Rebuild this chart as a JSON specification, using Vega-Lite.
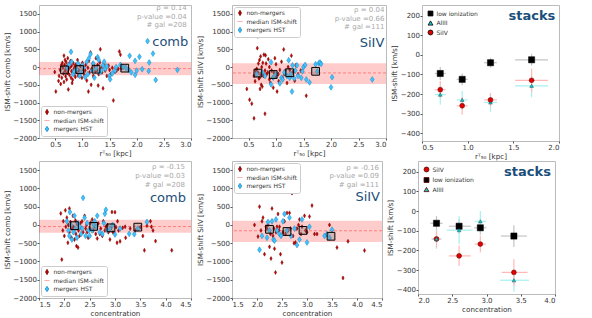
{
"$schema": "https://vega.github.io/schema/vega-lite/v6.json",
"padding": {"left": 2, "top": 3, "right": 5, "bottom": 0},
"spacing": 0,
"config": {
  "font": "DejaVu Sans",
  "view": {"stroke": "#bbbbbb"},
  "axis": {"grid": false, "domain": false, "labelFontSize": 7, "titleFontSize": 7.2, "titleFontWeight": "normal", "labelColor": "#333333", "titleColor": "#333333", "tickColor": "#555555", "tickSize": 2, "labelPadding": 0.5, "titlePadding": 1.5, "labelOverlap": false},
  "legend": {"labelFontSize": 6, "symbolStrokeWidth": 0.8, "symbolSize": 28, "padding": 2.5, "rowPadding": 0.5, "labelOffset": 3, "labelColor": "#333333"}
},
"resolve": {"scale": {"fill": "independent", "stroke": "independent", "shape": "independent"}},
"datasets": {
  "p1": [
    {"x":0.49,"y":-140,"g":"non-mergers"},{"x":0.51,"y":-690,"g":"non-mergers"},{"x":0.56,"y":-390,"g":"non-mergers"},{"x":0.57,"y":-250,"g":"non-mergers"},{"x":0.59,"y":-80,"g":"non-mergers"},{"x":0.6,"y":-480,"g":"non-mergers"},{"x":0.61,"y":50,"g":"non-mergers"},{"x":0.62,"y":-300,"g":"non-mergers"},{"x":0.63,"y":120,"g":"non-mergers"},{"x":0.64,"y":-20,"g":"non-mergers"},{"x":0.65,"y":-180,"g":"non-mergers"},{"x":0.66,"y":320,"g":"non-mergers"},{"x":0.66,"y":-420,"g":"non-mergers"},{"x":0.67,"y":60,"g":"non-mergers"},{"x":0.68,"y":-110,"g":"non-mergers"},{"x":0.68,"y":200,"g":"non-mergers"},{"x":0.69,"y":-260,"g":"non-mergers"},{"x":0.7,"y":-40,"g":"non-mergers"},{"x":0.7,"y":140,"g":"non-mergers"},{"x":0.71,"y":-350,"g":"non-mergers"},{"x":0.72,"y":30,"g":"non-mergers"},{"x":0.72,"y":-170,"g":"non-mergers"},{"x":0.73,"y":250,"g":"non-mergers"},{"x":0.74,"y":-630,"g":"non-mergers"},{"x":0.74,"y":-80,"g":"non-mergers"},{"x":0.75,"y":90,"g":"non-mergers"},{"x":0.76,"y":-220,"g":"non-mergers"},{"x":0.77,"y":-10,"g":"non-mergers"},{"x":0.78,"y":170,"g":"non-mergers"},{"x":0.79,"y":-300,"g":"non-mergers"},{"x":0.8,"y":-120,"g":"non-mergers"},{"x":0.8,"y":40,"g":"non-mergers"},{"x":0.81,"y":-450,"g":"non-mergers"},{"x":0.82,"y":-360,"g":"non-mergers"},{"x":0.83,"y":110,"g":"non-mergers"},{"x":0.84,"y":-60,"g":"non-mergers"},{"x":0.85,"y":-200,"g":"non-mergers"},{"x":0.86,"y":20,"g":"non-mergers"},{"x":0.87,"y":-280,"g":"non-mergers"},{"x":0.88,"y":70,"g":"non-mergers"},{"x":0.89,"y":-140,"g":"non-mergers"},{"x":0.9,"y":-30,"g":"non-mergers"},{"x":0.91,"y":200,"g":"non-mergers"},{"x":0.92,"y":-240,"g":"non-mergers"},{"x":0.93,"y":-90,"g":"non-mergers"},{"x":0.95,"y":-250,"g":"non-mergers"},{"x":0.96,"y":30,"g":"non-mergers"},{"x":0.97,"y":-160,"g":"non-mergers"},{"x":0.99,"y":-300,"g":"non-mergers"},{"x":1.0,"y":120,"g":"non-mergers"},{"x":1.01,"y":-60,"g":"non-mergers"},{"x":1.03,"y":-200,"g":"non-mergers"},{"x":1.05,"y":-100,"g":"non-mergers"},{"x":1.06,"y":60,"g":"non-mergers"},{"x":1.08,"y":-380,"g":"non-mergers"},{"x":1.1,"y":-20,"g":"non-mergers"},{"x":1.11,"y":-690,"g":"non-mergers"},{"x":1.12,"y":180,"g":"non-mergers"},{"x":1.13,"y":-150,"g":"non-mergers"},{"x":1.15,"y":410,"g":"non-mergers"},{"x":1.16,"y":-500,"g":"non-mergers"},{"x":1.17,"y":-60,"g":"non-mergers"},{"x":1.19,"y":100,"g":"non-mergers"},{"x":1.2,"y":-250,"g":"non-mergers"},{"x":1.22,"y":20,"g":"non-mergers"},{"x":1.24,"y":-120,"g":"non-mergers"},{"x":1.25,"y":250,"g":"non-mergers"},{"x":1.27,"y":-80,"g":"non-mergers"},{"x":1.28,"y":60,"g":"non-mergers"},{"x":1.29,"y":-520,"g":"non-mergers"},{"x":1.3,"y":-200,"g":"non-mergers"},{"x":1.32,"y":130,"g":"non-mergers"},{"x":1.33,"y":500,"g":"non-mergers"},{"x":1.35,"y":-30,"g":"non-mergers"},{"x":1.36,"y":-150,"g":"non-mergers"},{"x":1.38,"y":-600,"g":"non-mergers"},{"x":1.4,"y":80,"g":"non-mergers"},{"x":1.42,"y":-100,"g":"non-mergers"},{"x":1.45,"y":-250,"g":"non-mergers"},{"x":1.48,"y":40,"g":"non-mergers"},{"x":1.5,"y":-80,"g":"non-mergers"},{"x":1.52,"y":-200,"g":"non-mergers"},{"x":1.55,"y":-20,"g":"non-mergers"},{"x":1.57,"y":-940,"g":"non-mergers"},{"x":1.6,"y":-130,"g":"non-mergers"},{"x":1.63,"y":-100,"g":"non-mergers"},{"x":1.66,"y":-50,"g":"non-mergers"},{"x":1.68,"y":440,"g":"non-mergers"},{"x":1.7,"y":350,"g":"non-mergers"},{"x":1.72,"y":-40,"g":"non-mergers"},
    {"x":0.72,"y":-30,"g":"mergers HST"},{"x":0.75,"y":60,"g":"mergers HST"},{"x":0.79,"y":430,"g":"mergers HST"},{"x":0.8,"y":150,"g":"mergers HST"},{"x":0.83,"y":-200,"g":"mergers HST"},{"x":0.85,"y":-120,"g":"mergers HST"},{"x":0.9,"y":-60,"g":"mergers HST"},{"x":0.92,"y":100,"g":"mergers HST"},{"x":0.95,"y":-250,"g":"mergers HST"},{"x":0.97,"y":-150,"g":"mergers HST"},{"x":1.0,"y":50,"g":"mergers HST"},{"x":1.02,"y":-20,"g":"mergers HST"},{"x":1.05,"y":-280,"g":"mergers HST"},{"x":1.08,"y":150,"g":"mergers HST"},{"x":1.1,"y":-200,"g":"mergers HST"},{"x":1.12,"y":250,"g":"mergers HST"},{"x":1.15,"y":365,"g":"mergers HST"},{"x":1.18,"y":-100,"g":"mergers HST"},{"x":1.2,"y":100,"g":"mergers HST"},{"x":1.22,"y":-300,"g":"mergers HST"},{"x":1.25,"y":-40,"g":"mergers HST"},{"x":1.28,"y":280,"g":"mergers HST"},{"x":1.3,"y":200,"g":"mergers HST"},{"x":1.32,"y":-150,"g":"mergers HST"},{"x":1.35,"y":-100,"g":"mergers HST"},{"x":1.38,"y":50,"g":"mergers HST"},{"x":1.4,"y":150,"g":"mergers HST"},{"x":1.42,"y":-50,"g":"mergers HST"},{"x":1.45,"y":20,"g":"mergers HST"},{"x":1.5,"y":-250,"g":"mergers HST"},{"x":1.51,"y":-344,"g":"mergers HST"},{"x":1.55,"y":-180,"g":"mergers HST"},{"x":1.6,"y":-100,"g":"mergers HST"},{"x":1.62,"y":0,"g":"mergers HST"},{"x":1.7,"y":60,"g":"mergers HST"},{"x":1.75,"y":0,"g":"mergers HST"},{"x":1.8,"y":-20,"g":"mergers HST"},{"x":1.85,"y":-80,"g":"mergers HST"},{"x":1.87,"y":317,"g":"mergers HST"},{"x":1.9,"y":-150,"g":"mergers HST"},{"x":1.97,"y":176,"g":"mergers HST"},{"x":1.97,"y":-220,"g":"mergers HST"},{"x":2.0,"y":-100,"g":"mergers HST"},{"x":2.05,"y":290,"g":"mergers HST"},{"x":2.1,"y":-60,"g":"mergers HST"},{"x":2.2,"y":730,"g":"mergers HST"},{"x":2.23,"y":130,"g":"mergers HST"},{"x":2.22,"y":-110,"g":"mergers HST"},{"x":2.3,"y":380,"g":"mergers HST"},{"x":2.35,"y":-363,"g":"mergers HST"},{"x":2.75,"y":-80,"g":"mergers HST"}
  ],
  "p2": [
    {"x":0.47,"y":-617,"g":"non-mergers"},{"x":0.52,"y":-921,"g":"non-mergers"},{"x":0.56,"y":-1031,"g":"non-mergers"},{"x":0.6,"y":-1446,"g":"non-mergers"},{"x":0.6,"y":-250,"g":"non-mergers"},{"x":0.62,"y":-400,"g":"non-mergers"},{"x":0.63,"y":-100,"g":"non-mergers"},{"x":0.65,"y":-50,"g":"non-mergers"},{"x":0.66,"y":534,"g":"non-mergers"},{"x":0.67,"y":866,"g":"non-mergers"},{"x":0.67,"y":-150,"g":"non-mergers"},{"x":0.68,"y":100,"g":"non-mergers"},{"x":0.69,"y":-320,"g":"non-mergers"},{"x":0.7,"y":200,"g":"non-mergers"},{"x":0.7,"y":-300,"g":"non-mergers"},{"x":0.71,"y":-617,"g":"non-mergers"},{"x":0.72,"y":300,"g":"non-mergers"},{"x":0.72,"y":-200,"g":"non-mergers"},{"x":0.73,"y":-500,"g":"non-mergers"},{"x":0.74,"y":0,"g":"non-mergers"},{"x":0.75,"y":-550,"g":"non-mergers"},{"x":0.76,"y":120,"g":"non-mergers"},{"x":0.77,"y":-250,"g":"non-mergers"},{"x":0.78,"y":350,"g":"non-mergers"},{"x":0.8,"y":-1317,"g":"non-mergers"},{"x":0.8,"y":-100,"g":"non-mergers"},{"x":0.81,"y":330,"g":"non-mergers"},{"x":0.82,"y":100,"g":"non-mergers"},{"x":0.83,"y":-200,"g":"non-mergers"},{"x":0.85,"y":-150,"g":"non-mergers"},{"x":0.86,"y":220,"g":"non-mergers"},{"x":0.88,"y":-350,"g":"non-mergers"},{"x":0.88,"y":0,"g":"non-mergers"},{"x":0.9,"y":-450,"g":"non-mergers"},{"x":0.92,"y":-100,"g":"non-mergers"},{"x":0.94,"y":-300,"g":"non-mergers"},{"x":0.95,"y":-580,"g":"non-mergers"},{"x":0.96,"y":-150,"g":"non-mergers"},{"x":0.98,"y":250,"g":"non-mergers"},{"x":1.0,"y":80,"g":"non-mergers"},{"x":1.0,"y":-250,"g":"non-mergers"},{"x":1.02,"y":-690,"g":"non-mergers"},{"x":1.04,"y":-200,"g":"non-mergers"},{"x":1.05,"y":-400,"g":"non-mergers"},{"x":1.07,"y":-80,"g":"non-mergers"},{"x":1.1,"y":150,"g":"non-mergers"},{"x":1.12,"y":-300,"g":"non-mergers"},{"x":1.14,"y":497,"g":"non-mergers"},{"x":1.15,"y":-200,"g":"non-mergers"},{"x":1.17,"y":-100,"g":"non-mergers"},{"x":1.2,"y":-450,"g":"non-mergers"},{"x":1.22,"y":0,"g":"non-mergers"},{"x":1.25,"y":-80,"g":"non-mergers"},{"x":1.27,"y":-250,"g":"non-mergers"},{"x":1.28,"y":322,"g":"non-mergers"},{"x":1.3,"y":-150,"g":"non-mergers"},{"x":1.32,"y":-120,"g":"non-mergers"},{"x":1.34,"y":-387,"g":"non-mergers"},{"x":1.36,"y":50,"g":"non-mergers"},{"x":1.4,"y":-200,"g":"non-mergers"},{"x":1.45,"y":-100,"g":"non-mergers"},{"x":1.55,"y":-810,"g":"non-mergers"},
    {"x":0.65,"y":-200,"g":"mergers HST"},{"x":0.75,"y":-150,"g":"mergers HST"},{"x":0.8,"y":-250,"g":"mergers HST"},{"x":0.91,"y":138,"g":"mergers HST"},{"x":0.91,"y":-488,"g":"mergers HST"},{"x":0.95,"y":-300,"g":"mergers HST"},{"x":1.0,"y":-200,"g":"mergers HST"},{"x":1.07,"y":-460,"g":"mergers HST"},{"x":1.1,"y":-300,"g":"mergers HST"},{"x":1.12,"y":-350,"g":"mergers HST"},{"x":1.15,"y":-150,"g":"mergers HST"},{"x":1.2,"y":-250,"g":"mergers HST"},{"x":1.23,"y":193,"g":"mergers HST"},{"x":1.25,"y":-300,"g":"mergers HST"},{"x":1.27,"y":-200,"g":"mergers HST"},{"x":1.29,"y":-690,"g":"mergers HST"},{"x":1.3,"y":50,"g":"mergers HST"},{"x":1.33,"y":-320,"g":"mergers HST"},{"x":1.35,"y":-100,"g":"mergers HST"},{"x":1.38,"y":50,"g":"mergers HST"},{"x":1.4,"y":-250,"g":"mergers HST"},{"x":1.46,"y":-304,"g":"mergers HST"},{"x":1.48,"y":-120,"g":"mergers HST"},{"x":1.5,"y":0,"g":"mergers HST"},{"x":1.53,"y":60,"g":"mergers HST"},{"x":1.55,"y":-350,"g":"mergers HST"},{"x":1.61,"y":-432,"g":"mergers HST"},{"x":1.72,"y":80,"g":"mergers HST"},{"x":1.75,"y":-120,"g":"mergers HST"},{"x":1.78,"y":110,"g":"mergers HST"},{"x":1.8,"y":130,"g":"mergers HST"},{"x":1.82,"y":90,"g":"mergers HST"},{"x":2.0,"y":-571,"g":"mergers HST"},{"x":2.02,"y":-285,"g":"mergers HST"},{"x":2.75,"y":-350,"g":"mergers HST"}
  ],
  "p4": [
    {"x":1.93,"y":316,"g":"non-mergers"},{"x":1.95,"y":-949,"g":"non-mergers"},{"x":1.97,"y":-150,"g":"non-mergers"},{"x":1.98,"y":100,"g":"non-mergers"},{"x":2.0,"y":-300,"g":"non-mergers"},{"x":2.02,"y":400,"g":"non-mergers"},{"x":2.03,"y":-50,"g":"non-mergers"},{"x":2.05,"y":200,"g":"non-mergers"},{"x":2.07,"y":-488,"g":"non-mergers"},{"x":2.08,"y":0,"g":"non-mergers"},{"x":2.1,"y":450,"g":"non-mergers"},{"x":2.1,"y":-200,"g":"non-mergers"},{"x":2.12,"y":80,"g":"non-mergers"},{"x":2.14,"y":-350,"g":"non-mergers"},{"x":2.15,"y":-100,"g":"non-mergers"},{"x":2.17,"y":250,"g":"non-mergers"},{"x":2.18,"y":-50,"g":"non-mergers"},{"x":2.2,"y":-400,"g":"non-mergers"},{"x":2.22,"y":120,"g":"non-mergers"},{"x":2.23,"y":-250,"g":"non-mergers"},{"x":2.24,"y":-578,"g":"non-mergers"},{"x":2.25,"y":30,"g":"non-mergers"},{"x":2.27,"y":-620,"g":"non-mergers"},{"x":2.28,"y":-150,"g":"non-mergers"},{"x":2.3,"y":-300,"g":"non-mergers"},{"x":2.32,"y":50,"g":"non-mergers"},{"x":2.33,"y":-80,"g":"non-mergers"},{"x":2.35,"y":100,"g":"non-mergers"},{"x":2.37,"y":-200,"g":"non-mergers"},{"x":2.4,"y":250,"g":"non-mergers"},{"x":2.42,"y":-100,"g":"non-mergers"},{"x":2.44,"y":0,"g":"non-mergers"},{"x":2.45,"y":-200,"g":"non-mergers"},{"x":2.47,"y":-350,"g":"non-mergers"},{"x":2.5,"y":-100,"g":"non-mergers"},{"x":2.52,"y":60,"g":"non-mergers"},{"x":2.55,"y":150,"g":"non-mergers"},{"x":2.57,"y":-150,"g":"non-mergers"},{"x":2.6,"y":-40,"g":"non-mergers"},{"x":2.62,"y":-250,"g":"non-mergers"},{"x":2.65,"y":-370,"g":"non-mergers"},{"x":2.67,"y":40,"g":"non-mergers"},{"x":2.7,"y":-250,"g":"non-mergers"},{"x":2.72,"y":-100,"g":"non-mergers"},{"x":2.75,"y":-300,"g":"non-mergers"},{"x":2.77,"y":100,"g":"non-mergers"},{"x":2.8,"y":-150,"g":"non-mergers"},{"x":2.82,"y":-50,"g":"non-mergers"},{"x":2.85,"y":0,"g":"non-mergers"},{"x":2.87,"y":-200,"g":"non-mergers"},{"x":2.9,"y":-400,"g":"non-mergers"},{"x":2.92,"y":-100,"g":"non-mergers"},{"x":2.94,"y":352,"g":"non-mergers"},{"x":2.96,"y":-200,"g":"non-mergers"},{"x":3.0,"y":350,"g":"non-mergers"},{"x":3.02,"y":-60,"g":"non-mergers"},{"x":3.04,"y":-488,"g":"non-mergers"},{"x":3.05,"y":100,"g":"non-mergers"},{"x":3.07,"y":-150,"g":"non-mergers"},{"x":3.1,"y":-450,"g":"non-mergers"},{"x":3.15,"y":-80,"g":"non-mergers"},{"x":3.2,"y":-50,"g":"non-mergers"},{"x":3.21,"y":-352,"g":"non-mergers"},{"x":3.3,"y":-100,"g":"non-mergers"},{"x":3.4,"y":-150,"g":"non-mergers"},{"x":3.5,"y":-60,"g":"non-mergers"},{"x":3.55,"y":-300,"g":"non-mergers"},{"x":3.58,"y":-696,"g":"non-mergers"},{"x":3.63,"y":-20,"g":"non-mergers"},{"x":3.7,"y":100,"g":"non-mergers"},{"x":3.72,"y":-50,"g":"non-mergers"},{"x":3.75,"y":-150,"g":"non-mergers"},{"x":3.8,"y":-443,"g":"non-mergers"},{"x":4.12,"y":-696,"g":"non-mergers"},
    {"x":2.05,"y":100,"g":"mergers HST"},{"x":2.08,"y":-150,"g":"mergers HST"},{"x":2.1,"y":-300,"g":"mergers HST"},{"x":2.11,"y":353,"g":"mergers HST"},{"x":2.13,"y":0,"g":"mergers HST"},{"x":2.15,"y":-400,"g":"mergers HST"},{"x":2.18,"y":-200,"g":"mergers HST"},{"x":2.2,"y":250,"g":"mergers HST"},{"x":2.22,"y":-100,"g":"mergers HST"},{"x":2.25,"y":-350,"g":"mergers HST"},{"x":2.27,"y":50,"g":"mergers HST"},{"x":2.3,"y":-50,"g":"mergers HST"},{"x":2.33,"y":-250,"g":"mergers HST"},{"x":2.35,"y":-100,"g":"mergers HST"},{"x":2.37,"y":741,"g":"mergers HST"},{"x":2.4,"y":200,"g":"mergers HST"},{"x":2.42,"y":-300,"g":"mergers HST"},{"x":2.45,"y":50,"g":"mergers HST"},{"x":2.48,"y":-150,"g":"mergers HST"},{"x":2.5,"y":-300,"g":"mergers HST"},{"x":2.55,"y":-150,"g":"mergers HST"},{"x":2.58,"y":0,"g":"mergers HST"},{"x":2.6,"y":100,"g":"mergers HST"},{"x":2.63,"y":-50,"g":"mergers HST"},{"x":2.65,"y":250,"g":"mergers HST"},{"x":2.7,"y":-200,"g":"mergers HST"},{"x":2.75,"y":-250,"g":"mergers HST"},{"x":2.78,"y":50,"g":"mergers HST"},{"x":2.8,"y":307,"g":"mergers HST"},{"x":2.82,"y":416,"g":"mergers HST"},{"x":2.85,"y":-150,"g":"mergers HST"},{"x":2.9,"y":-100,"g":"mergers HST"},{"x":2.95,"y":0,"g":"mergers HST"},{"x":3.0,"y":-262,"g":"mergers HST"},{"x":3.1,"y":-100,"g":"mergers HST"},{"x":3.28,"y":-244,"g":"mergers HST"},{"x":3.38,"y":-253,"g":"mergers HST"},{"x":3.45,"y":-100,"g":"mergers HST"},{"x":3.63,"y":81,"g":"mergers HST"}
  ],
  "p5": [
    {"x":1.95,"y":0,"g":"non-mergers"},{"x":2.02,"y":-320,"g":"non-mergers"},{"x":2.05,"y":500,"g":"non-mergers"},{"x":2.08,"y":-150,"g":"non-mergers"},{"x":2.1,"y":100,"g":"non-mergers"},{"x":2.12,"y":200,"g":"non-mergers"},{"x":2.15,"y":-800,"g":"non-mergers"},{"x":2.18,"y":-50,"g":"non-mergers"},{"x":2.2,"y":-100,"g":"non-mergers"},{"x":2.22,"y":0,"g":"non-mergers"},{"x":2.25,"y":-600,"g":"non-mergers"},{"x":2.27,"y":-250,"g":"non-mergers"},{"x":2.28,"y":-920,"g":"non-mergers"},{"x":2.3,"y":450,"g":"non-mergers"},{"x":2.32,"y":-300,"g":"non-mergers"},{"x":2.34,"y":-100,"g":"non-mergers"},{"x":2.35,"y":-650,"g":"non-mergers"},{"x":2.37,"y":-1300,"g":"non-mergers"},{"x":2.38,"y":-200,"g":"non-mergers"},{"x":2.4,"y":-50,"g":"non-mergers"},{"x":2.42,"y":300,"g":"non-mergers"},{"x":2.44,"y":-150,"g":"non-mergers"},{"x":2.45,"y":-50,"g":"non-mergers"},{"x":2.47,"y":-800,"g":"non-mergers"},{"x":2.5,"y":-1030,"g":"non-mergers"},{"x":2.52,"y":-200,"g":"non-mergers"},{"x":2.55,"y":100,"g":"non-mergers"},{"x":2.57,"y":-250,"g":"non-mergers"},{"x":2.6,"y":330,"g":"non-mergers"},{"x":2.62,"y":-150,"g":"non-mergers"},{"x":2.65,"y":330,"g":"non-mergers"},{"x":2.67,"y":-100,"g":"non-mergers"},{"x":2.7,"y":870,"g":"non-mergers"},{"x":2.72,"y":-300,"g":"non-mergers"},{"x":2.74,"y":-500,"g":"non-mergers"},{"x":2.77,"y":-480,"g":"non-mergers"},{"x":2.8,"y":-100,"g":"non-mergers"},{"x":2.83,"y":0,"g":"non-mergers"},{"x":2.85,"y":150,"g":"non-mergers"},{"x":2.88,"y":-250,"g":"non-mergers"},{"x":2.9,"y":-50,"g":"non-mergers"},{"x":2.95,"y":250,"g":"non-mergers"},{"x":2.97,"y":-150,"g":"non-mergers"},{"x":3.0,"y":-200,"g":"non-mergers"},{"x":3.05,"y":230,"g":"non-mergers"},{"x":3.1,"y":530,"g":"non-mergers"},{"x":3.15,"y":-250,"g":"non-mergers"},{"x":3.2,"y":-250,"g":"non-mergers"},{"x":3.45,"y":0,"g":"non-mergers"},{"x":3.5,"y":-150,"g":"non-mergers"},{"x":3.6,"y":-620,"g":"non-mergers"},{"x":3.72,"y":-1450,"g":"non-mergers"},{"x":3.82,"y":-450,"g":"non-mergers"},{"x":4.15,"y":-700,"g":"non-mergers"},
    {"x":2.05,"y":-680,"g":"mergers HST"},{"x":2.1,"y":-300,"g":"mergers HST"},{"x":2.2,"y":-350,"g":"mergers HST"},{"x":2.22,"y":80,"g":"mergers HST"},{"x":2.25,"y":-150,"g":"mergers HST"},{"x":2.3,"y":100,"g":"mergers HST"},{"x":2.33,"y":-400,"g":"mergers HST"},{"x":2.35,"y":-430,"g":"mergers HST"},{"x":2.38,"y":150,"g":"mergers HST"},{"x":2.4,"y":-150,"g":"mergers HST"},{"x":2.45,"y":-250,"g":"mergers HST"},{"x":2.48,"y":-300,"g":"mergers HST"},{"x":2.52,"y":100,"g":"mergers HST"},{"x":2.55,"y":300,"g":"mergers HST"},{"x":2.6,"y":-150,"g":"mergers HST"},{"x":2.65,"y":200,"g":"mergers HST"},{"x":2.68,"y":-300,"g":"mergers HST"},{"x":2.75,"y":-100,"g":"mergers HST"},{"x":2.8,"y":-550,"g":"mergers HST"},{"x":2.85,"y":-400,"g":"mergers HST"},{"x":2.9,"y":150,"g":"mergers HST"},{"x":3.0,"y":-480,"g":"mergers HST"},{"x":3.05,"y":-50,"g":"mergers HST"},{"x":3.35,"y":-300,"g":"mergers HST"},{"x":3.4,"y":-250,"g":"mergers HST"},{"x":3.45,"y":-350,"g":"mergers HST"},{"x":3.5,"y":-130,"g":"mergers HST"}
  ],
  "s3": [
    {"sp":"low ionization","x":0.70,"y":-95,"xl":0.64,"xh":0.76,"yl":-128,"yh":-62},
    {"sp":"low ionization","x":0.94,"y":-125,"xl":0.88,"xh":1.0,"yl":-155,"yh":-95},
    {"sp":"low ionization","x":1.25,"y":-40,"xl":1.18,"xh":1.32,"yl":-65,"yh":-15},
    {"sp":"low ionization","x":1.70,"y":-25,"xl":1.52,"xh":1.88,"yl":-55,"yh":5},
    {"sp":"AlIII","x":0.70,"y":-203,"xl":0.64,"xh":0.76,"yl":-255,"yh":-153},
    {"sp":"AlIII","x":0.94,"y":-230,"xl":0.88,"xh":1.0,"yl":-275,"yh":-185},
    {"sp":"AlIII","x":1.25,"y":-243,"xl":1.18,"xh":1.32,"yl":-290,"yh":-198},
    {"sp":"AlIII","x":1.70,"y":-158,"xl":1.52,"xh":1.88,"yl":-217,"yh":-100},
    {"sp":"SiIV","x":0.70,"y":-178,"xl":0.64,"xh":0.76,"yl":-222,"yh":-132},
    {"sp":"SiIV","x":0.94,"y":-260,"xl":0.88,"xh":1.0,"yl":-305,"yh":-215},
    {"sp":"SiIV","x":1.25,"y":-230,"xl":1.18,"xh":1.32,"yl":-265,"yh":-195},
    {"sp":"SiIV","x":1.70,"y":-130,"xl":1.52,"xh":1.88,"yl":-190,"yh":-70}
  ],
  "s6": [
    {"sp":"low ionization","x":2.27,"y":-62,"xl":2.18,"xh":2.36,"yl":-100,"yh":-25},
    {"sp":"low ionization","x":2.6,"y":-77,"xl":2.45,"xh":2.77,"yl":-115,"yh":-40},
    {"sp":"low ionization","x":2.91,"y":-85,"xl":2.82,"xh":3.0,"yl":-120,"yh":-50},
    {"sp":"low ionization","x":3.4,"y":-127,"xl":3.21,"xh":3.59,"yl":-183,"yh":-72},
    {"sp":"AlIII","x":2.27,"y":-142,"xl":2.2,"xh":2.34,"yl":-192,"yh":-92},
    {"sp":"AlIII","x":2.6,"y":-97,"xl":2.42,"xh":2.8,"yl":-167,"yh":-25},
    {"sp":"AlIII","x":2.91,"y":-52,"xl":2.83,"xh":2.99,"yl":-105,"yh":0},
    {"sp":"AlIII","x":3.4,"y":-352,"xl":3.2,"xh":3.62,"yl":-410,"yh":-300},
    {"sp":"SiIV","x":2.27,"y":-142,"xl":2.2,"xh":2.34,"yl":-185,"yh":-100},
    {"sp":"SiIV","x":2.6,"y":-228,"xl":2.45,"xh":2.77,"yl":-280,"yh":-175},
    {"sp":"SiIV","x":2.91,"y":-168,"xl":2.83,"xh":2.99,"yl":-210,"yh":-125},
    {"sp":"SiIV","x":3.4,"y":-312,"xl":3.22,"xh":3.6,"yl":-380,"yh":-245}
  ]
},
"vconcat": [
 {"hconcat": [
  {"width": 152, "height": 133,
   "layer": [
    {"data": {"values": [{"y": 140, "y2": -230}]}, "mark": {"type": "rect", "fill": "#ff0000", "fillOpacity": 0.2},
     "encoding": {"y": {"field": "y", "type": "quantitative", "scale": {"domain": [-2000, 1750], "nice": false, "zero": false}, "axis": {"values": [-2000,-1500,-1000,-500,0,500,1000,1500], "format": "d"}, "title": "ISM-shift comb [km/s]"}, "y2": {"field": "y2"}}},
    {"data": {"values": [{"y": -45}]}, "mark": {"type": "rule", "stroke": "#ff6a6a", "strokeWidth": 0.8, "strokeDash": [3, 2]},
     "encoding": {"y": {"field": "y", "type": "quantitative", "scale": {"domain": [-2000, 1750], "nice": false, "zero": false}, "axis": {"values": [-2000,-1500,-1000,-500,0,500,1000,1500], "format": "d"}, "title": "ISM-shift comb [km/s]"}}},
    {"data": {"name": "p1"}, "transform": [{"filter": "datum.g === 'non-mergers'"}], "mark": {"type": "point", "size": 16, "strokeWidth": 0.5, "opacity": 1},
     "encoding": {
      "x": {"field": "x", "type": "quantitative", "scale": {"domain": [0.2, 3.0], "nice": false, "zero": false}, "axis": {"values": [0.5,1,1.5,2,2.5,3], "format": ".1f"}, "title": "rᵀ₅₀ [kpc]"},
      "y": {"field": "y", "type": "quantitative", "scale": {"domain": [-2000, 1750], "nice": false, "zero": false}, "axis": {"values": [-2000,-1500,-1000,-500,0,500,1000,1500], "format": "d"}, "title": "ISM-shift comb [km/s]"},
      "fill": {"field": "g", "type": "nominal", "scale": {"domain": ["non-mergers","median ISM-shift","mergers HST"], "range": ["#d10000","#ff9a9a","#3ec3ff"]}, "legend": {"title": null, "orient": "bottom-left", "offset": 2, "strokeColor": "#cccccc", "fillColor": "white", "cornerRadius": 2}},
      "stroke": {"field": "g", "type": "nominal", "scale": {"domain": ["non-mergers","median ISM-shift","mergers HST"], "range": ["#6a0000","#ff9a9a","#1a86c0"]}, "legend": {"title": null, "orient": "bottom-left", "offset": 2}},
      "shape": {"field": "g", "type": "nominal", "scale": {"domain": ["non-mergers","median ISM-shift","mergers HST"], "range": ["M0,-1L0.55,0L0,1L-0.55,0Z","stroke","M0,-1L0.65,0L0,1L-0.65,0Z"]}, "legend": {"title": null, "orient": "bottom-left", "offset": 2}}
     }},
    {"data": {"name": "p1"}, "transform": [{"filter": "datum.g === 'mergers HST'"}], "mark": {"type": "point", "size": 34, "strokeWidth": 0.5, "opacity": 1},
     "encoding": {
      "x": {"field": "x", "type": "quantitative", "scale": {"domain": [0.2, 3.0], "nice": false, "zero": false}, "axis": {"values": [0.5,1,1.5,2,2.5,3], "format": ".1f"}, "title": "rᵀ₅₀ [kpc]"},
      "y": {"field": "y", "type": "quantitative", "scale": {"domain": [-2000, 1750], "nice": false, "zero": false}, "axis": {"values": [-2000,-1500,-1000,-500,0,500,1000,1500], "format": "d"}, "title": "ISM-shift comb [km/s]"},
      "fill": {"field": "g", "type": "nominal"},
      "stroke": {"field": "g", "type": "nominal"},
      "shape": {"field": "g", "type": "nominal"}
     }},
    {"data": {"values": [{"x": 0.67, "y": -80}, {"x": 0.95, "y": -70}, {"x": 1.25, "y": -60}, {"x": 1.78, "y": -30}]}, "mark": {"type": "square", "size": 60, "fill": "#888888", "fillOpacity": 0.35, "stroke": "#000000", "strokeWidth": 1, "opacity": 1},
     "encoding": {"x": {"field": "x", "type": "quantitative", "scale": {"domain": [0.2, 3.0], "nice": false, "zero": false}, "axis": {"values": [0.5,1,1.5,2,2.5,3], "format": ".1f"}, "title": "rᵀ₅₀ [kpc]"}, "y": {"field": "y", "type": "quantitative", "scale": {"domain": [-2000, 1750], "nice": false, "zero": false}, "axis": {"values": [-2000,-1500,-1000,-500,0,500,1000,1500], "format": "d"}, "title": "ISM-shift comb [km/s]"}}},
    {"data": {"values": [{"x": 2.92, "y": 1660, "t": "ρ = 0.14"}, {"x": 2.92, "y": 1425, "t": "p-value =0.04"}, {"x": 2.92, "y": 1195, "t": "# gal =208"}, {"x": 2.95, "y": 720, "t": "comb", "k": "b"}]}, "mark": {"type": "text", "align": "right", "baseline": "middle"},
     "encoding": {"x": {"field": "x", "type": "quantitative", "scale": {"domain": [0.2, 3.0], "nice": false, "zero": false}, "axis": {"values": [0.5,1,1.5,2,2.5,3], "format": ".1f"}, "title": "rᵀ₅₀ [kpc]"}, "y": {"field": "y", "type": "quantitative", "scale": {"domain": [-2000, 1750], "nice": false, "zero": false}, "axis": {"values": [-2000,-1500,-1000,-500,0,500,1000,1500], "format": "d"}, "title": "ISM-shift comb [km/s]"}, "text": {"field": "t"},
      "size": {"condition": {"test": "datum.k === 'b'", "value": 13}, "value": 7},
      "color": {"condition": {"test": "datum.k === 'b'", "value": "#1b4f7a"}, "value": "#a8a8a8"},
      "fontWeight": {"condition": {"test": "datum.k === 'b'", "value": "bold"}, "value": "normal"}}}
   ]},
  {"width": 154, "height": 133,
   "layer": [
    {"data": {"values": [{"y": 110, "y2": -480}]}, "mark": {"type": "rect", "fill": "#ff0000", "fillOpacity": 0.2},
     "encoding": {"y": {"field": "y", "type": "quantitative", "scale": {"domain": [-2000, 1750], "nice": false, "zero": false}, "axis": {"values": [-2000,-1500,-1000,-500,0,500,1000,1500], "format": "d"}, "title": "ISM-shift SiIV [km/s]"}, "y2": {"field": "y2"}}},
    {"data": {"values": [{"y": -166}]}, "mark": {"type": "rule", "stroke": "#ff6a6a", "strokeWidth": 0.8, "strokeDash": [3, 2]},
     "encoding": {"y": {"field": "y", "type": "quantitative", "scale": {"domain": [-2000, 1750], "nice": false, "zero": false}, "axis": {"values": [-2000,-1500,-1000,-500,0,500,1000,1500], "format": "d"}, "title": "ISM-shift SiIV [km/s]"}}},
    {"data": {"name": "p2"}, "transform": [{"filter": "datum.g === 'non-mergers'"}], "mark": {"type": "point", "size": 16, "strokeWidth": 0.5, "opacity": 1},
     "encoding": {
      "x": {"field": "x", "type": "quantitative", "scale": {"domain": [0.2, 3.0], "nice": false, "zero": false}, "axis": {"values": [0.5,1,1.5,2,2.5,3], "format": ".1f"}, "title": "rᵀ₅₀ [kpc]"},
      "y": {"field": "y", "type": "quantitative", "scale": {"domain": [-2000, 1750], "nice": false, "zero": false}, "axis": {"values": [-2000,-1500,-1000,-500,0,500,1000,1500], "format": "d"}, "title": "ISM-shift SiIV [km/s]"},
      "fill": {"field": "g", "type": "nominal", "scale": {"domain": ["non-mergers","median ISM-shift","mergers HST"], "range": ["#d10000","#ff9a9a","#3ec3ff"]}, "legend": {"title": null, "orient": "top-left", "offset": 2, "strokeColor": "#cccccc", "fillColor": "white", "cornerRadius": 2}},
      "stroke": {"field": "g", "type": "nominal", "scale": {"domain": ["non-mergers","median ISM-shift","mergers HST"], "range": ["#6a0000","#ff9a9a","#1a86c0"]}, "legend": {"title": null, "orient": "top-left", "offset": 2}},
      "shape": {"field": "g", "type": "nominal", "scale": {"domain": ["non-mergers","median ISM-shift","mergers HST"], "range": ["M0,-1L0.55,0L0,1L-0.55,0Z","stroke","M0,-1L0.65,0L0,1L-0.65,0Z"]}, "legend": {"title": null, "orient": "top-left", "offset": 2}}
     }},
    {"data": {"name": "p2"}, "transform": [{"filter": "datum.g === 'mergers HST'"}], "mark": {"type": "point", "size": 34, "strokeWidth": 0.5, "opacity": 1},
     "encoding": {
      "x": {"field": "x", "type": "quantitative", "scale": {"domain": [0.2, 3.0], "nice": false, "zero": false}, "axis": {"values": [0.5,1,1.5,2,2.5,3], "format": ".1f"}, "title": "rᵀ₅₀ [kpc]"},
      "y": {"field": "y", "type": "quantitative", "scale": {"domain": [-2000, 1750], "nice": false, "zero": false}, "axis": {"values": [-2000,-1500,-1000,-500,0,500,1000,1500], "format": "d"}, "title": "ISM-shift SiIV [km/s]"},
      "fill": {"field": "g", "type": "nominal"},
      "stroke": {"field": "g", "type": "nominal"},
      "shape": {"field": "g", "type": "nominal"}
     }},
    {"data": {"values": [{"x": 0.67, "y": -170}, {"x": 0.95, "y": -210}, {"x": 1.25, "y": -160}, {"x": 1.72, "y": -120}]}, "mark": {"type": "square", "size": 60, "fill": "#888888", "fillOpacity": 0.35, "stroke": "#000000", "strokeWidth": 1, "opacity": 1},
     "encoding": {"x": {"field": "x", "type": "quantitative", "scale": {"domain": [0.2, 3.0], "nice": false, "zero": false}, "axis": {"values": [0.5,1,1.5,2,2.5,3], "format": ".1f"}, "title": "rᵀ₅₀ [kpc]"}, "y": {"field": "y", "type": "quantitative", "scale": {"domain": [-2000, 1750], "nice": false, "zero": false}, "axis": {"values": [-2000,-1500,-1000,-500,0,500,1000,1500], "format": "d"}, "title": "ISM-shift SiIV [km/s]"}}},
    {"data": {"values": [{"x": 2.97, "y": 1595, "t": "ρ = 0.04"}, {"x": 2.97, "y": 1365, "t": "p-value =0.66"}, {"x": 2.97, "y": 1135, "t": "# gal =111"}, {"x": 2.97, "y": 670, "t": "SiIV", "k": "b"}]}, "mark": {"type": "text", "align": "right", "baseline": "middle"},
     "encoding": {"x": {"field": "x", "type": "quantitative", "scale": {"domain": [0.2, 3.0], "nice": false, "zero": false}, "axis": {"values": [0.5,1,1.5,2,2.5,3], "format": ".1f"}, "title": "rᵀ₅₀ [kpc]"}, "y": {"field": "y", "type": "quantitative", "scale": {"domain": [-2000, 1750], "nice": false, "zero": false}, "axis": {"values": [-2000,-1500,-1000,-500,0,500,1000,1500], "format": "d"}, "title": "ISM-shift SiIV [km/s]"}, "text": {"field": "t"},
      "size": {"condition": {"test": "datum.k === 'b'", "value": 13}, "value": 7},
      "color": {"condition": {"test": "datum.k === 'b'", "value": "#1b4f7a"}, "value": "#a8a8a8"},
      "fontWeight": {"condition": {"test": "datum.k === 'b'", "value": "bold"}, "value": "normal"}}}
   ]},
  {"width": 137, "height": 136,
   "layer": [
    {"data": {"name": "s3"}, "transform": [{"filter": "datum.sp === 'low ionization'"}], "mark": {"type": "rule", "strokeWidth": 1.2, "stroke": "#c4c4c4"},
     "encoding": {"x": {"field": "xl", "type": "quantitative", "scale": {"domain": [0.5, 2.0], "nice": false, "zero": false}, "axis": {"values": [0.5,1,1.5,2], "format": ".1f"}, "title": "rᵀ₅₀ [kpc]"}, "x2": {"field": "xh"},
      "y": {"field": "y", "type": "quantitative", "scale": {"domain": [-440, 255], "nice": false, "zero": false}, "axis": {"values": [-400,-300,-200,-100,0,100,200], "format": "d"}, "title": "ISM-shift [km/s]"}}},
    {"data": {"name": "s3"}, "transform": [{"filter": "datum.sp === 'low ionization'"}], "mark": {"type": "rule", "strokeWidth": 1.2, "stroke": "#c4c4c4"},
     "encoding": {"x": {"field": "x", "type": "quantitative", "scale": {"domain": [0.5, 2.0], "nice": false, "zero": false}, "axis": {"values": [0.5,1,1.5,2], "format": ".1f"}, "title": "rᵀ₅₀ [kpc]"},
      "y": {"field": "yl", "type": "quantitative", "scale": {"domain": [-440, 255], "nice": false, "zero": false}, "axis": {"values": [-400,-300,-200,-100,0,100,200], "format": "d"}, "title": "ISM-shift [km/s]"}, "y2": {"field": "yh"}}},
    {"data": {"name": "s3"}, "transform": [{"filter": "datum.sp === 'AlIII'"}], "mark": {"type": "rule", "strokeWidth": 1.2, "stroke": "#a6f0f0"},
     "encoding": {"x": {"field": "xl", "type": "quantitative", "scale": {"domain": [0.5, 2.0], "nice": false, "zero": false}, "axis": {"values": [0.5,1,1.5,2], "format": ".1f"}, "title": "rᵀ₅₀ [kpc]"}, "x2": {"field": "xh"},
      "y": {"field": "y", "type": "quantitative", "scale": {"domain": [-440, 255], "nice": false, "zero": false}, "axis": {"values": [-400,-300,-200,-100,0,100,200], "format": "d"}, "title": "ISM-shift [km/s]"}}},
    {"data": {"name": "s3"}, "transform": [{"filter": "datum.sp === 'AlIII'"}], "mark": {"type": "rule", "strokeWidth": 1.2, "stroke": "#a6f0f0"},
     "encoding": {"x": {"field": "x", "type": "quantitative", "scale": {"domain": [0.5, 2.0], "nice": false, "zero": false}, "axis": {"values": [0.5,1,1.5,2], "format": ".1f"}, "title": "rᵀ₅₀ [kpc]"},
      "y": {"field": "yl", "type": "quantitative", "scale": {"domain": [-440, 255], "nice": false, "zero": false}, "axis": {"values": [-400,-300,-200,-100,0,100,200], "format": "d"}, "title": "ISM-shift [km/s]"}, "y2": {"field": "yh"}}},
    {"data": {"name": "s3"}, "transform": [{"filter": "datum.sp === 'SiIV'"}], "mark": {"type": "rule", "strokeWidth": 1.2, "stroke": "#ffb8b8"},
     "encoding": {"x": {"field": "xl", "type": "quantitative", "scale": {"domain": [0.5, 2.0], "nice": false, "zero": false}, "axis": {"values": [0.5,1,1.5,2], "format": ".1f"}, "title": "rᵀ₅₀ [kpc]"}, "x2": {"field": "xh"},
      "y": {"field": "y", "type": "quantitative", "scale": {"domain": [-440, 255], "nice": false, "zero": false}, "axis": {"values": [-400,-300,-200,-100,0,100,200], "format": "d"}, "title": "ISM-shift [km/s]"}}},
    {"data": {"name": "s3"}, "transform": [{"filter": "datum.sp === 'SiIV'"}], "mark": {"type": "rule", "strokeWidth": 1.2, "stroke": "#ffb8b8"},
     "encoding": {"x": {"field": "x", "type": "quantitative", "scale": {"domain": [0.5, 2.0], "nice": false, "zero": false}, "axis": {"values": [0.5,1,1.5,2], "format": ".1f"}, "title": "rᵀ₅₀ [kpc]"},
      "y": {"field": "yl", "type": "quantitative", "scale": {"domain": [-440, 255], "nice": false, "zero": false}, "axis": {"values": [-400,-300,-200,-100,0,100,200], "format": "d"}, "title": "ISM-shift [km/s]"}, "y2": {"field": "yh"}}},
    {"data": {"name": "s3"}, "transform": [{"filter": "datum.sp === 'low ionization'"}], "mark": {"type": "point", "size": 38, "stroke": "#000000", "strokeWidth": 0.5, "opacity": 1},
     "encoding": {"x": {"field": "x", "type": "quantitative", "scale": {"domain": [0.5, 2.0], "nice": false, "zero": false}, "axis": {"values": [0.5,1,1.5,2], "format": ".1f"}, "title": "rᵀ₅₀ [kpc]"}, "y": {"field": "y", "type": "quantitative", "scale": {"domain": [-440, 255], "nice": false, "zero": false}, "axis": {"values": [-400,-300,-200,-100,0,100,200], "format": "d"}, "title": "ISM-shift [km/s]"},
      "fill": {"field": "sp", "type": "nominal", "scale": {"domain": ["low ionization","AlIII","SiIV"], "range": ["#000000","#1fc4c8","#e00000"]}, "legend": {"title": null, "orient": "top-left", "offset": 3, "symbolSize": 24}},
      "shape": {"field": "sp", "type": "nominal", "scale": {"domain": ["low ionization","AlIII","SiIV"], "range": ["square","triangle-up","circle"]}, "legend": {"title": null, "orient": "top-left", "offset": 3, "symbolSize": 24}}}},
    {"data": {"name": "s3"}, "transform": [{"filter": "datum.sp === 'AlIII'"}], "mark": {"type": "point", "size": 14, "stroke": "#115555", "strokeWidth": 0.5, "opacity": 1},
     "encoding": {"x": {"field": "x", "type": "quantitative", "scale": {"domain": [0.5, 2.0], "nice": false, "zero": false}, "axis": {"values": [0.5,1,1.5,2], "format": ".1f"}, "title": "rᵀ₅₀ [kpc]"}, "y": {"field": "y", "type": "quantitative", "scale": {"domain": [-440, 255], "nice": false, "zero": false}, "axis": {"values": [-400,-300,-200,-100,0,100,200], "format": "d"}, "title": "ISM-shift [km/s]"},
      "fill": {"field": "sp", "type": "nominal"}, "shape": {"field": "sp", "type": "nominal"}}},
    {"data": {"name": "s3"}, "transform": [{"filter": "datum.sp === 'SiIV'"}], "mark": {"type": "point", "size": 24, "stroke": "#550000", "strokeWidth": 0.5, "opacity": 1},
     "encoding": {"x": {"field": "x", "type": "quantitative", "scale": {"domain": [0.5, 2.0], "nice": false, "zero": false}, "axis": {"values": [0.5,1,1.5,2], "format": ".1f"}, "title": "rᵀ₅₀ [kpc]"}, "y": {"field": "y", "type": "quantitative", "scale": {"domain": [-440, 255], "nice": false, "zero": false}, "axis": {"values": [-400,-300,-200,-100,0,100,200], "format": "d"}, "title": "ISM-shift [km/s]"},
      "fill": {"field": "sp", "type": "nominal"}, "shape": {"field": "sp", "type": "nominal"}}},
    {"data": {"values": [{"x": 1.96, "y": 200, "t": "stacks"}]}, "mark": {"type": "text", "align": "right", "baseline": "middle", "fontSize": 13, "fontWeight": "bold", "fill": "#1b4f7a"},
     "encoding": {"x": {"field": "x", "type": "quantitative", "scale": {"domain": [0.5, 2.0], "nice": false, "zero": false}, "axis": {"values": [0.5,1,1.5,2], "format": ".1f"}, "title": "rᵀ₅₀ [kpc]"}, "y": {"field": "y", "type": "quantitative", "scale": {"domain": [-440, 255], "nice": false, "zero": false}, "axis": {"values": [-400,-300,-200,-100,0,100,200], "format": "d"}, "title": "ISM-shift [km/s]"}, "text": {"field": "t"}}}
   ]}
 ],
 "spacing": 3,
 "resolve": {"scale": {"fill": "independent", "stroke": "independent", "shape": "independent"}}},
 {"hconcat": [
  {"width": 152, "height": 137,
   "layer": [
    {"data": {"values": [{"y": 145, "y2": -217}]}, "mark": {"type": "rect", "fill": "#ff0000", "fillOpacity": 0.2},
     "encoding": {"y": {"field": "y", "type": "quantitative", "scale": {"domain": [-2000, 1750], "nice": false, "zero": false}, "axis": {"values": [-2000,-1500,-1000,-500,0,500,1000,1500], "format": "d"}, "title": "ISM-shift comb [km/s]"}, "y2": {"field": "y2"}}},
    {"data": {"values": [{"y": -45}]}, "mark": {"type": "rule", "stroke": "#ff6a6a", "strokeWidth": 0.8, "strokeDash": [3, 2]},
     "encoding": {"y": {"field": "y", "type": "quantitative", "scale": {"domain": [-2000, 1750], "nice": false, "zero": false}, "axis": {"values": [-2000,-1500,-1000,-500,0,500,1000,1500], "format": "d"}, "title": "ISM-shift comb [km/s]"}}},
    {"data": {"name": "p4"}, "transform": [{"filter": "datum.g === 'non-mergers'"}], "mark": {"type": "point", "size": 16, "strokeWidth": 0.5, "opacity": 1},
     "encoding": {
      "x": {"field": "x", "type": "quantitative", "scale": {"domain": [1.5, 4.5], "nice": false, "zero": false}, "axis": {"values": [1.5,2,2.5,3,3.5,4,4.5], "format": ".1f"}, "title": "concentration"},
      "y": {"field": "y", "type": "quantitative", "scale": {"domain": [-2000, 1750], "nice": false, "zero": false}, "axis": {"values": [-2000,-1500,-1000,-500,0,500,1000,1500], "format": "d"}, "title": "ISM-shift comb [km/s]"},
      "fill": {"field": "g", "type": "nominal", "scale": {"domain": ["non-mergers","median ISM-shift","mergers HST"], "range": ["#d10000","#ff9a9a","#3ec3ff"]}, "legend": {"title": null, "orient": "bottom-left", "offset": 2, "strokeColor": "#cccccc", "fillColor": "white", "cornerRadius": 2}},
      "stroke": {"field": "g", "type": "nominal", "scale": {"domain": ["non-mergers","median ISM-shift","mergers HST"], "range": ["#6a0000","#ff9a9a","#1a86c0"]}, "legend": {"title": null, "orient": "bottom-left", "offset": 2}},
      "shape": {"field": "g", "type": "nominal", "scale": {"domain": ["non-mergers","median ISM-shift","mergers HST"], "range": ["M0,-1L0.55,0L0,1L-0.55,0Z","stroke","M0,-1L0.65,0L0,1L-0.65,0Z"]}, "legend": {"title": null, "orient": "bottom-left", "offset": 2}}
     }},
    {"data": {"name": "p4"}, "transform": [{"filter": "datum.g === 'mergers HST'"}], "mark": {"type": "point", "size": 34, "strokeWidth": 0.5, "opacity": 1},
     "encoding": {
      "x": {"field": "x", "type": "quantitative", "scale": {"domain": [1.5, 4.5], "nice": false, "zero": false}, "axis": {"values": [1.5,2,2.5,3,3.5,4,4.5], "format": ".1f"}, "title": "concentration"},
      "y": {"field": "y", "type": "quantitative", "scale": {"domain": [-2000, 1750], "nice": false, "zero": false}, "axis": {"values": [-2000,-1500,-1000,-500,0,500,1000,1500], "format": "d"}, "title": "ISM-shift comb [km/s]"},
      "fill": {"field": "g", "type": "nominal"},
      "stroke": {"field": "g", "type": "nominal"},
      "shape": {"field": "g", "type": "nominal"}
     }},
    {"data": {"values": [{"x": 2.2, "y": -20}, {"x": 2.58, "y": -40}, {"x": 2.92, "y": -80}, {"x": 3.45, "y": -60}]}, "mark": {"type": "square", "size": 60, "fill": "#888888", "fillOpacity": 0.35, "stroke": "#000000", "strokeWidth": 1, "opacity": 1},
     "encoding": {"x": {"field": "x", "type": "quantitative", "scale": {"domain": [1.5, 4.5], "nice": false, "zero": false}, "axis": {"values": [1.5,2,2.5,3,3.5,4,4.5], "format": ".1f"}, "title": "concentration"}, "y": {"field": "y", "type": "quantitative", "scale": {"domain": [-2000, 1750], "nice": false, "zero": false}, "axis": {"values": [-2000,-1500,-1000,-500,0,500,1000,1500], "format": "d"}, "title": "ISM-shift comb [km/s]"}}},
    {"data": {"values": [{"x": 4.38, "y": 1575, "t": "ρ = -0.15"}, {"x": 4.38, "y": 1330, "t": "p-value =0.03"}, {"x": 4.38, "y": 1105, "t": "# gal =208"}, {"x": 4.4, "y": 730, "t": "comb", "k": "b"}]}, "mark": {"type": "text", "align": "right", "baseline": "middle"},
     "encoding": {"x": {"field": "x", "type": "quantitative", "scale": {"domain": [1.5, 4.5], "nice": false, "zero": false}, "axis": {"values": [1.5,2,2.5,3,3.5,4,4.5], "format": ".1f"}, "title": "concentration"}, "y": {"field": "y", "type": "quantitative", "scale": {"domain": [-2000, 1750], "nice": false, "zero": false}, "axis": {"values": [-2000,-1500,-1000,-500,0,500,1000,1500], "format": "d"}, "title": "ISM-shift comb [km/s]"}, "text": {"field": "t"},
      "size": {"condition": {"test": "datum.k === 'b'", "value": 13}, "value": 7},
      "color": {"condition": {"test": "datum.k === 'b'", "value": "#1b4f7a"}, "value": "#a8a8a8"},
      "fontWeight": {"condition": {"test": "datum.k === 'b'", "value": "bold"}, "value": "normal"}}}
   ]},
  {"width": 150, "height": 137,
   "layer": [
    {"data": {"values": [{"y": 115, "y2": -470}]}, "mark": {"type": "rect", "fill": "#ff0000", "fillOpacity": 0.2},
     "encoding": {"y": {"field": "y", "type": "quantitative", "scale": {"domain": [-2000, 1750], "nice": false, "zero": false}, "axis": {"values": [-2000,-1500,-1000,-500,0,500,1000,1500], "format": "d"}, "title": "ISM-shift SiIV [km/s]"}, "y2": {"field": "y2"}}},
    {"data": {"values": [{"y": -160}]}, "mark": {"type": "rule", "stroke": "#ff6a6a", "strokeWidth": 0.8, "strokeDash": [3, 2]},
     "encoding": {"y": {"field": "y", "type": "quantitative", "scale": {"domain": [-2000, 1750], "nice": false, "zero": false}, "axis": {"values": [-2000,-1500,-1000,-500,0,500,1000,1500], "format": "d"}, "title": "ISM-shift SiIV [km/s]"}}},
    {"data": {"name": "p5"}, "transform": [{"filter": "datum.g === 'non-mergers'"}], "mark": {"type": "point", "size": 16, "strokeWidth": 0.5, "opacity": 1},
     "encoding": {
      "x": {"field": "x", "type": "quantitative", "scale": {"domain": [1.5, 4.5], "nice": false, "zero": false}, "axis": {"values": [1.5,2,2.5,3,3.5,4,4.5], "format": ".1f"}, "title": "concentration"},
      "y": {"field": "y", "type": "quantitative", "scale": {"domain": [-2000, 1750], "nice": false, "zero": false}, "axis": {"values": [-2000,-1500,-1000,-500,0,500,1000,1500], "format": "d"}, "title": "ISM-shift SiIV [km/s]"},
      "fill": {"field": "g", "type": "nominal", "scale": {"domain": ["non-mergers","median ISM-shift","mergers HST"], "range": ["#d10000","#ff9a9a","#3ec3ff"]}, "legend": {"title": null, "orient": "top-left", "offset": 2, "strokeColor": "#cccccc", "fillColor": "white", "cornerRadius": 2}},
      "stroke": {"field": "g", "type": "nominal", "scale": {"domain": ["non-mergers","median ISM-shift","mergers HST"], "range": ["#6a0000","#ff9a9a","#1a86c0"]}, "legend": {"title": null, "orient": "top-left", "offset": 2}},
      "shape": {"field": "g", "type": "nominal", "scale": {"domain": ["non-mergers","median ISM-shift","mergers HST"], "range": ["M0,-1L0.55,0L0,1L-0.55,0Z","stroke","M0,-1L0.65,0L0,1L-0.65,0Z"]}, "legend": {"title": null, "orient": "top-left", "offset": 2}}
     }},
    {"data": {"name": "p5"}, "transform": [{"filter": "datum.g === 'mergers HST'"}], "mark": {"type": "point", "size": 34, "strokeWidth": 0.5, "opacity": 1},
     "encoding": {
      "x": {"field": "x", "type": "quantitative", "scale": {"domain": [1.5, 4.5], "nice": false, "zero": false}, "axis": {"values": [1.5,2,2.5,3,3.5,4,4.5], "format": ".1f"}, "title": "concentration"},
      "y": {"field": "y", "type": "quantitative", "scale": {"domain": [-2000, 1750], "nice": false, "zero": false}, "axis": {"values": [-2000,-1500,-1000,-500,0,500,1000,1500], "format": "d"}, "title": "ISM-shift SiIV [km/s]"},
      "fill": {"field": "g", "type": "nominal"},
      "stroke": {"field": "g", "type": "nominal"},
      "shape": {"field": "g", "type": "nominal"}
     }},
    {"data": {"values": [{"x": 2.25, "y": -120}, {"x": 2.6, "y": -180}, {"x": 2.92, "y": -150}, {"x": 3.48, "y": -310}]}, "mark": {"type": "square", "size": 60, "fill": "#888888", "fillOpacity": 0.35, "stroke": "#000000", "strokeWidth": 1, "opacity": 1},
     "encoding": {"x": {"field": "x", "type": "quantitative", "scale": {"domain": [1.5, 4.5], "nice": false, "zero": false}, "axis": {"values": [1.5,2,2.5,3,3.5,4,4.5], "format": ".1f"}, "title": "concentration"}, "y": {"field": "y", "type": "quantitative", "scale": {"domain": [-2000, 1750], "nice": false, "zero": false}, "axis": {"values": [-2000,-1500,-1000,-500,0,500,1000,1500], "format": "d"}, "title": "ISM-shift SiIV [km/s]"}}},
    {"data": {"values": [{"x": 4.44, "y": 1555, "t": "ρ = -0.16"}, {"x": 4.44, "y": 1330, "t": "p-value =0.09"}, {"x": 4.44, "y": 1105, "t": "# gal =111"}, {"x": 4.46, "y": 760, "t": "SiIV", "k": "b"}]}, "mark": {"type": "text", "align": "right", "baseline": "middle"},
     "encoding": {"x": {"field": "x", "type": "quantitative", "scale": {"domain": [1.5, 4.5], "nice": false, "zero": false}, "axis": {"values": [1.5,2,2.5,3,3.5,4,4.5], "format": ".1f"}, "title": "concentration"}, "y": {"field": "y", "type": "quantitative", "scale": {"domain": [-2000, 1750], "nice": false, "zero": false}, "axis": {"values": [-2000,-1500,-1000,-500,0,500,1000,1500], "format": "d"}, "title": "ISM-shift SiIV [km/s]"}, "text": {"field": "t"},
      "size": {"condition": {"test": "datum.k === 'b'", "value": 13}, "value": 7},
      "color": {"condition": {"test": "datum.k === 'b'", "value": "#1b4f7a"}, "value": "#a8a8a8"},
      "fontWeight": {"condition": {"test": "datum.k === 'b'", "value": "bold"}, "value": "normal"}}}
   ]},
  {"width": 137, "height": 133,
   "layer": [
    {"data": {"name": "s6"}, "transform": [{"filter": "datum.sp === 'low ionization'"}], "mark": {"type": "rule", "strokeWidth": 1.2, "stroke": "#c4c4c4"},
     "encoding": {"x": {"field": "xl", "type": "quantitative", "scale": {"domain": [2.0, 4.0], "nice": false, "zero": false}, "axis": {"values": [2,2.5,3,3.5,4], "format": ".1f"}, "title": "concentration"}, "x2": {"field": "xh"},
      "y": {"field": "y", "type": "quantitative", "scale": {"domain": [-422, 255], "nice": false, "zero": false}, "axis": {"values": [-400,-300,-200,-100,0,100,200], "format": "d"}, "title": "ISM-shift [km/s]"}}},
    {"data": {"name": "s6"}, "transform": [{"filter": "datum.sp === 'low ionization'"}], "mark": {"type": "rule", "strokeWidth": 1.2, "stroke": "#c4c4c4"},
     "encoding": {"x": {"field": "x", "type": "quantitative", "scale": {"domain": [2.0, 4.0], "nice": false, "zero": false}, "axis": {"values": [2,2.5,3,3.5,4], "format": ".1f"}, "title": "concentration"},
      "y": {"field": "yl", "type": "quantitative", "scale": {"domain": [-422, 255], "nice": false, "zero": false}, "axis": {"values": [-400,-300,-200,-100,0,100,200], "format": "d"}, "title": "ISM-shift [km/s]"}, "y2": {"field": "yh"}}},
    {"data": {"name": "s6"}, "transform": [{"filter": "datum.sp === 'AlIII'"}], "mark": {"type": "rule", "strokeWidth": 1.2, "stroke": "#a6f0f0"},
     "encoding": {"x": {"field": "xl", "type": "quantitative", "scale": {"domain": [2.0, 4.0], "nice": false, "zero": false}, "axis": {"values": [2,2.5,3,3.5,4], "format": ".1f"}, "title": "concentration"}, "x2": {"field": "xh"},
      "y": {"field": "y", "type": "quantitative", "scale": {"domain": [-422, 255], "nice": false, "zero": false}, "axis": {"values": [-400,-300,-200,-100,0,100,200], "format": "d"}, "title": "ISM-shift [km/s]"}}},
    {"data": {"name": "s6"}, "transform": [{"filter": "datum.sp === 'AlIII'"}], "mark": {"type": "rule", "strokeWidth": 1.2, "stroke": "#a6f0f0"},
     "encoding": {"x": {"field": "x", "type": "quantitative", "scale": {"domain": [2.0, 4.0], "nice": false, "zero": false}, "axis": {"values": [2,2.5,3,3.5,4], "format": ".1f"}, "title": "concentration"},
      "y": {"field": "yl", "type": "quantitative", "scale": {"domain": [-422, 255], "nice": false, "zero": false}, "axis": {"values": [-400,-300,-200,-100,0,100,200], "format": "d"}, "title": "ISM-shift [km/s]"}, "y2": {"field": "yh"}}},
    {"data": {"name": "s6"}, "transform": [{"filter": "datum.sp === 'SiIV'"}], "mark": {"type": "rule", "strokeWidth": 1.2, "stroke": "#ffb8b8"},
     "encoding": {"x": {"field": "xl", "type": "quantitative", "scale": {"domain": [2.0, 4.0], "nice": false, "zero": false}, "axis": {"values": [2,2.5,3,3.5,4], "format": ".1f"}, "title": "concentration"}, "x2": {"field": "xh"},
      "y": {"field": "y", "type": "quantitative", "scale": {"domain": [-422, 255], "nice": false, "zero": false}, "axis": {"values": [-400,-300,-200,-100,0,100,200], "format": "d"}, "title": "ISM-shift [km/s]"}}},
    {"data": {"name": "s6"}, "transform": [{"filter": "datum.sp === 'SiIV'"}], "mark": {"type": "rule", "strokeWidth": 1.2, "stroke": "#ffb8b8"},
     "encoding": {"x": {"field": "x", "type": "quantitative", "scale": {"domain": [2.0, 4.0], "nice": false, "zero": false}, "axis": {"values": [2,2.5,3,3.5,4], "format": ".1f"}, "title": "concentration"},
      "y": {"field": "yl", "type": "quantitative", "scale": {"domain": [-422, 255], "nice": false, "zero": false}, "axis": {"values": [-400,-300,-200,-100,0,100,200], "format": "d"}, "title": "ISM-shift [km/s]"}, "y2": {"field": "yh"}}},
    {"data": {"name": "s6"}, "transform": [{"filter": "datum.sp === 'SiIV'"}], "mark": {"type": "point", "size": 24, "stroke": "#550000", "strokeWidth": 0.5, "opacity": 1},
     "encoding": {"x": {"field": "x", "type": "quantitative", "scale": {"domain": [2.0, 4.0], "nice": false, "zero": false}, "axis": {"values": [2,2.5,3,3.5,4], "format": ".1f"}, "title": "concentration"}, "y": {"field": "y", "type": "quantitative", "scale": {"domain": [-422, 255], "nice": false, "zero": false}, "axis": {"values": [-400,-300,-200,-100,0,100,200], "format": "d"}, "title": "ISM-shift [km/s]"},
      "fill": {"field": "sp", "type": "nominal", "scale": {"domain": ["SiIV","low ionization","AlIII"], "range": ["#e00000","#000000","#1fc4c8"]}, "legend": {"title": null, "orient": "top-left", "offset": 3, "symbolSize": 24}},
      "shape": {"field": "sp", "type": "nominal", "scale": {"domain": ["SiIV","low ionization","AlIII"], "range": ["circle","square","triangle-up"]}, "legend": {"title": null, "orient": "top-left", "offset": 3, "symbolSize": 24}}}},
    {"data": {"name": "s6"}, "transform": [{"filter": "datum.sp === 'low ionization'"}], "mark": {"type": "point", "size": 38, "stroke": "#000000", "strokeWidth": 0.5, "opacity": 1},
     "encoding": {"x": {"field": "x", "type": "quantitative", "scale": {"domain": [2.0, 4.0], "nice": false, "zero": false}, "axis": {"values": [2,2.5,3,3.5,4], "format": ".1f"}, "title": "concentration"}, "y": {"field": "y", "type": "quantitative", "scale": {"domain": [-422, 255], "nice": false, "zero": false}, "axis": {"values": [-400,-300,-200,-100,0,100,200], "format": "d"}, "title": "ISM-shift [km/s]"},
      "fill": {"field": "sp", "type": "nominal"}, "shape": {"field": "sp", "type": "nominal"}}},
    {"data": {"name": "s6"}, "transform": [{"filter": "datum.sp === 'AlIII'"}], "mark": {"type": "point", "size": 14, "stroke": "#115555", "strokeWidth": 0.5, "opacity": 1},
     "encoding": {"x": {"field": "x", "type": "quantitative", "scale": {"domain": [2.0, 4.0], "nice": false, "zero": false}, "axis": {"values": [2,2.5,3,3.5,4], "format": ".1f"}, "title": "concentration"}, "y": {"field": "y", "type": "quantitative", "scale": {"domain": [-422, 255], "nice": false, "zero": false}, "axis": {"values": [-400,-300,-200,-100,0,100,200], "format": "d"}, "title": "ISM-shift [km/s]"},
      "fill": {"field": "sp", "type": "nominal"}, "shape": {"field": "sp", "type": "nominal"}}},
    {"data": {"values": [{"x": 3.94, "y": 200, "t": "stacks"}]}, "mark": {"type": "text", "align": "right", "baseline": "middle", "fontSize": 13, "fontWeight": "bold", "fill": "#1b4f7a"},
     "encoding": {"x": {"field": "x", "type": "quantitative", "scale": {"domain": [2.0, 4.0], "nice": false, "zero": false}, "axis": {"values": [2,2.5,3,3.5,4], "format": ".1f"}, "title": "concentration"}, "y": {"field": "y", "type": "quantitative", "scale": {"domain": [-422, 255], "nice": false, "zero": false}, "axis": {"values": [-400,-300,-200,-100,0,100,200], "format": "d"}, "title": "ISM-shift [km/s]"}, "text": {"field": "t"}}}
   ]}
 ],
 "spacing": 3,
 "resolve": {"scale": {"fill": "independent", "stroke": "independent", "shape": "independent"}}}
]
}
